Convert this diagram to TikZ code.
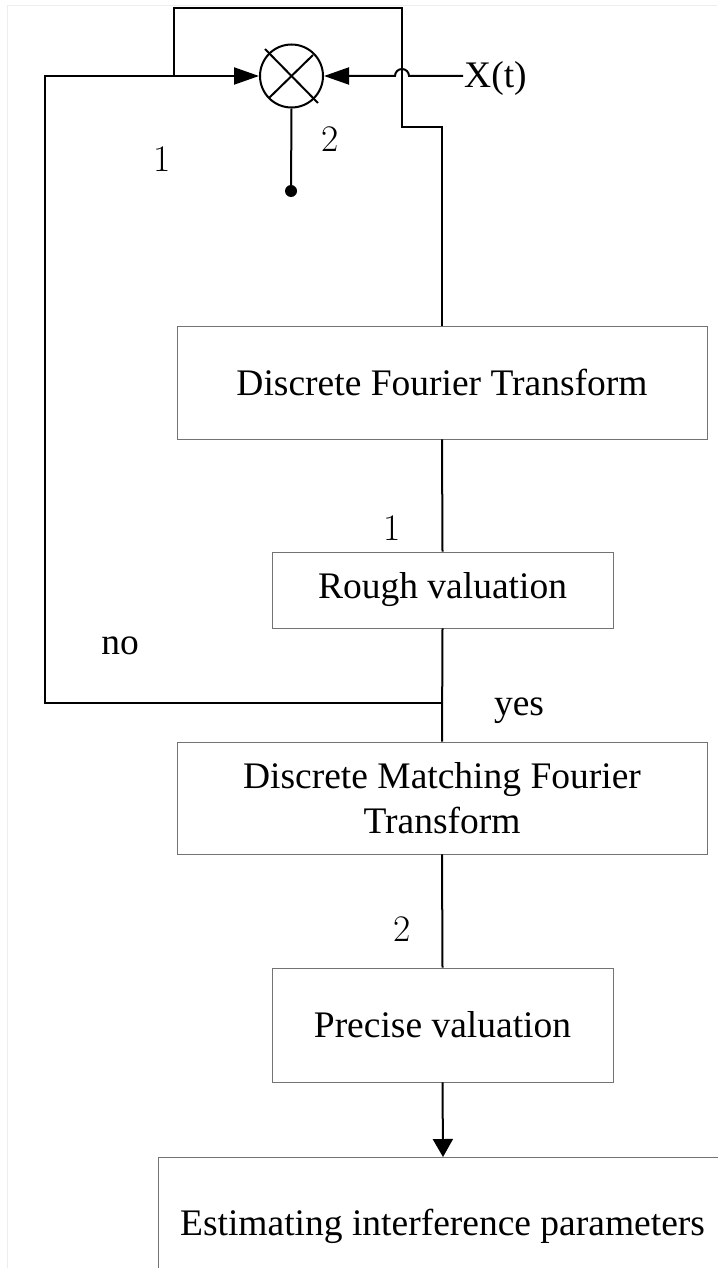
\documentclass[tikz,border=0pt]{standalone}
\usepackage{fontspec}
\newfontfamily\timesfont{Liberation Serif}
\usepackage{tikz}
\usetikzlibrary{positioning, calc, arrows.meta}

\tikzset{
  block/.style={draw=black!55, line width=0.9pt, rectangle, inner sep=0pt, align=center,
    font=\timesfont\fontsize{37.5}{45}\selectfont},
  wire/.style={line width=2pt},
  arr/.style={wire, -{Triangle[length=25pt, width=17pt]}},
  lbl/.style={inner sep=0pt, anchor=base, font=\timesfont\fontsize{37.5}{45}\selectfont},
  num/.style={inner sep=0pt, anchor=base, font=\fontsize{37.5}{45}\selectfont}
}

\begin{document}
\begin{tikzpicture}[x=1pt, y=-1pt] % pixel-like coordinates, y downwards
                    \useasboundingbox (0,0) rectangle (717,1268);
                    \draw[black!7, line width=1pt] (7,1268) |- (717,6);

                    % Multiplier and its output point
                    \node[draw, circle, line width=2pt, minimum size=63pt, inner sep=0pt] (mult) at (291.5,76) {};
                    \draw[wire] ($(mult.center)+(-26.5,-27)$) -- ($(mult.center)+(26.5,27)$);
                    \draw[wire] ($(mult.center)+(21.5,-21)$) -- ($(mult.center)+(-22.5,22)$);
                    \node[circle, fill, inner sep=0pt, minimum size=12pt] (dot) at (291,191) {};
                    \node[lbl, anchor=base west, inner sep=1pt] (xt) at (463,88) {X(t)};

                    % Processing blocks
                    \node[block, minimum width=530pt, minimum height=113pt] (dft) at (442,382.5) {Discrete Fourier Transform};
                    \node[block, minimum width=341pt, minimum height=76pt] (rough) at (442.5,590) {Rough valuation};
                    \node[block, minimum width=530pt, minimum height=112pt] (dmft) at (442,798) {Discrete Matching Fourier\\Transform};
                    \node[block, minimum width=341pt, minimum height=114pt] (precise) at (442.5,1025) {Precise valuation};
                    \node[lbl] (est) at (442.5,1235) {Estimating interference parameters};

                    % Junction points
                    \coordinate (fb) at (443,703);
                    \coordinate (jn) at (174,76);
                    \coordinate (esttop) at (443,1157);

                    % Open frame round the last step
                    \draw[draw=black!55, line width=0.9pt] (esttop -| 720,0) -| (158,1270);

                    % Connectors
                    \draw[wire] (mult.south) -- (dot.center);
                    \draw[arr] (xt.west |- mult.east) -- (409,76) arc (0:-180:7) -- (mult.east);
                    \draw[wire] (dft.north) |- (402,127) |- (174,8) -- (jn);
                    \draw[wire] (dft.south) -- (rough.north);
                    \draw[wire] (rough.south) -- (dmft.north);
                    \draw[arr] (fb) -| (45,76) -- (mult.west);
                    \draw[wire] (dmft.south) -- (precise.north);
                    \draw[arr, -{Triangle[length=18pt, width=20pt]}] (precise.south) -- (esttop);

                    % Branch labels
                    \node[num] (n1a) at (162,172) {1};
                    \node[num] (n2a) at (330,152) {2};
                    \node[num] (n1b) at (392,540) {1};
                    \node[num] (n2b) at (402,941) {2};
                    \node[lbl] (no) at (120,654) {no};
                    \node[lbl] (yes) at (519,715) {yes};

                \end{tikzpicture}
\end{document}
